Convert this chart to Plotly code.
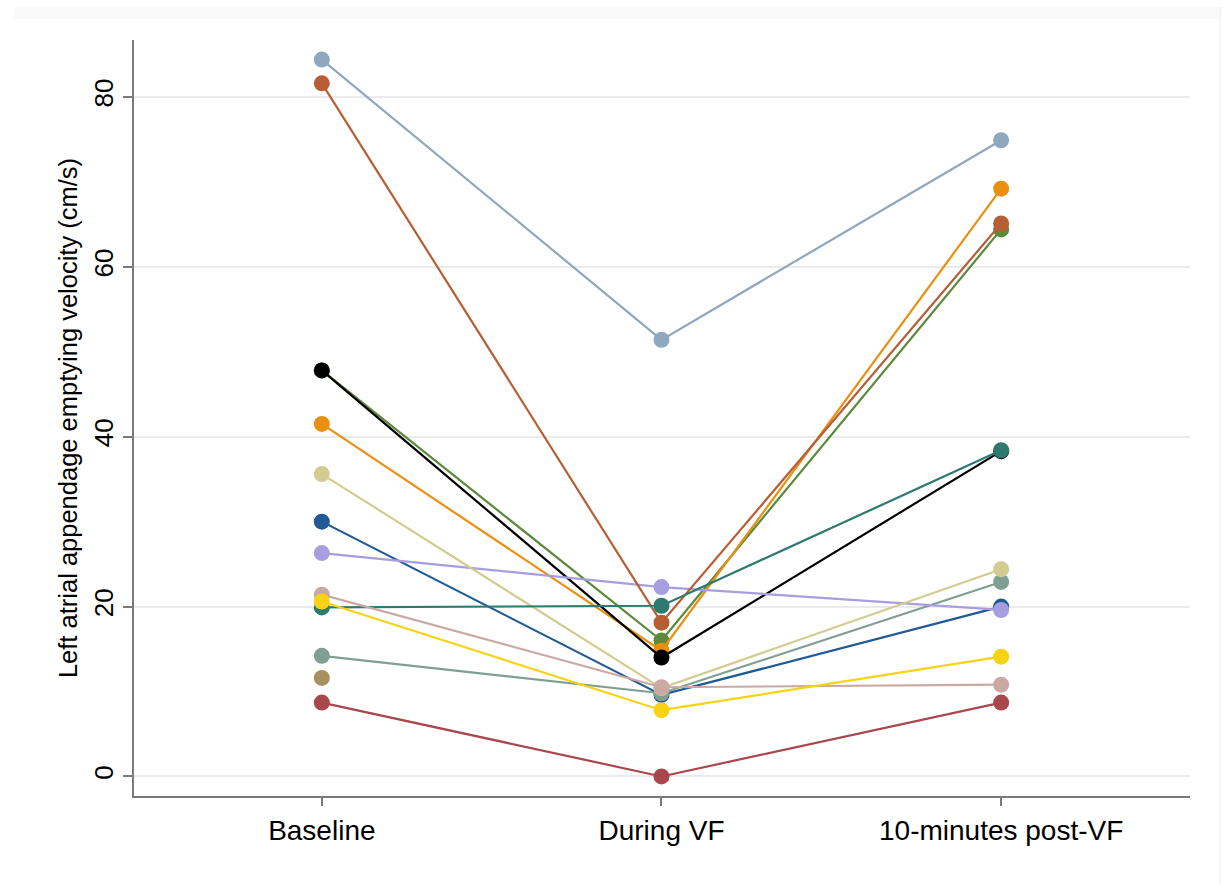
import plotly.graph_objects as go

# Measurement occasions (x positions 1, 2, 3)
time_points = ["Baseline", "During VF", "10-minutes post-VF"]

# One series per subject: LAA emptying velocity (cm/s) at each occasion
navy = [30.0, 9.6, 20.0]
maroon = [8.7, 0.0, 8.7]
forest_green = [47.8, 16.0, 64.4]
dkorange = [41.5, 14.8, 69.2]
teal = [14.2, 9.8, 22.9]
black = [47.8, 14.0, 38.3]
lavender = [26.3, 22.3, 19.6]
khaki = [35.6, 10.4, 24.4]
sienna = [81.6, 18.1, 65.1]
emidblue = [84.4, 51.4, 74.9]
emerald = [19.9, 20.1, 38.4]
brown = [11.6, None, None]
erose = [21.4, 10.5, 10.8]
gold = [20.6, 7.8, 14.1]

y_ticks = [0, 20, 40, 60, 80]

series = [
    (navy, "#1f5a94"),
    (maroon, "#a8474c"),
    (forest_green, "#5a8a3a"),
    (dkorange, "#ea8f10"),
    (teal, "#7f9f95"),
    (black, "#000000"),
    (lavender, "#a79ee0"),
    (khaki, "#d2cc90"),
    (sienna, "#b85e34"),
    (emidblue, "#8fa7bf"),
    (emerald, "#2e7a6e"),
    (brown, "#a89060"),
    (erose, "#caa9a3"),
    (gold, "#f7d312"),
]

x_pos = [1, 2, 3]

fig = go.Figure()
for values, color in series:
    fig.add_trace(go.Scatter(
        x=x_pos, y=values, mode="lines+markers",
        line=dict(color=color, width=2.2),
        marker=dict(color=color, size=16),
        showlegend=False, hoverinfo="skip",
    ))

font_family = "Liberation Sans, Arial, Helvetica, sans-serif"

fig.update_layout(
    width=1232, height=886,
    margin=dict(l=134, r=42, t=40, b=90),
    paper_bgcolor="white", plot_bgcolor="white",
    font=dict(family=font_family, color="black"),
    xaxis=dict(
        range=[0.447, 3.556],
        tickvals=x_pos, ticktext=time_points,
        tickfont=dict(size=28),
        showgrid=False, zeroline=False,
        showline=True, linecolor="#7a7a7a", linewidth=2,
        ticks="outside", ticklen=8, tickwidth=1.5, tickcolor="#7a7a7a",
    ),
    yaxis=dict(
        range=[-2.3, 86.7],
        tickvals=y_ticks,
        tickangle=-90,
        tickfont=dict(size=26),
        showgrid=True, gridcolor="#ebebeb", gridwidth=2,
        zeroline=False,
        showline=True, linecolor="#7a7a7a", linewidth=2,
        ticks="outside", ticklen=9, tickwidth=1.5, tickcolor="#7a7a7a",
        title=dict(text="Left atrial appendage emptying velocity (cm/s)",
                   font=dict(size=25.5), standoff=4),
    ),
    shapes=[
        dict(type="rect", xref="paper", yref="paper",
             x0=-0.1136, x1=1.0303, y0=1.0278, y1=1.0437,
             fillcolor="#fafafa", line=dict(width=0), layer="below"),
        dict(type="line", xref="paper", yref="paper",
             x0=1.0284, x1=1.0284, y0=-0.117, y1=1.0437,
             line=dict(color="#f4f7f9", width=2)),
    ],
)

fig.write_html("out.html")
